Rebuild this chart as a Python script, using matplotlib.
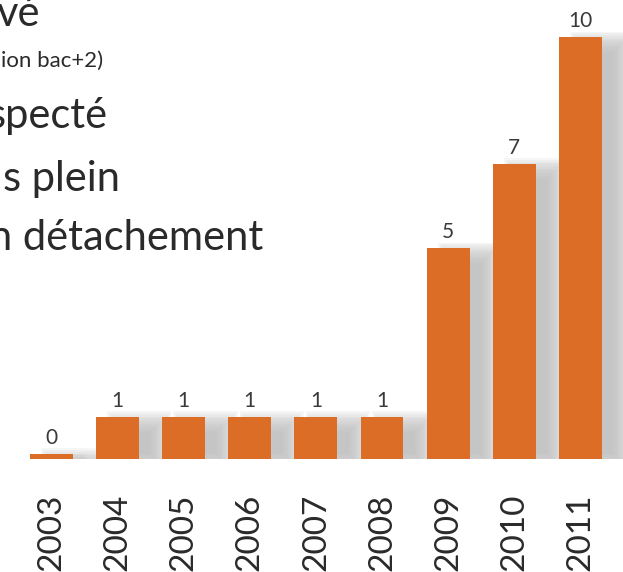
import numpy as np
import matplotlib.pyplot as plt

years = ['2003', '2004', '2005', '2006', '2007', '2008', '2009', '2010', '2011']
values = [0, 1, 1, 1, 1, 1, 5, 7, 10]
# cropped text from the left part of the original slide
side_text = ['vé', 'ion bac+2)', 'specté', 's plein', 'n détachement']

plt.rcParams['font.family'] = ['Lato', 'DejaVu Sans']

fig = plt.figure(figsize=(6.23, 5.72), dpi=100)
ax = fig.add_axes([0, 113 / 572, 1, 459 / 572])

x = np.arange(len(years))
heights = np.maximum(values, 0.12)   # keep a small stub visible for 0
orange = '#dc6d27'
w = 0.65

# soft drop shadow to the right of each bar
for t in np.linspace(-1, 1, 13):
    ex, ey = t * 0.16, t * 0.25
    ax.bar(x + 0.33, heights + 2 * ey, width=w + 2 * ex, bottom=-0.12 - ey,
           color='#bcbcbc', alpha=0.12, linewidth=0, zorder=1)

bars = ax.bar(x, heights, width=w, color=orange, linewidth=0, zorder=3)
ax.bar_label(bars, labels=[str(v) for v in values], padding=4,
             fontsize=15, color='#3a3a3a', zorder=4)

ax.set_xlim(-51.5 / 66.1, (623 - 51.5) / 66.1)
ax.set_ylim(0, 459 / 42.2)
ax.set_xticks(x, years, rotation=90, fontsize=24, color='#2a2a2a')
ax.tick_params(axis='x', length=0, pad=25)
ax.set_yticks([])
for s in ax.spines.values():
    s.set_visible(False)

# text lines (anchor px, baseline px, size, align)
pos = [(40, 26, 30, 'right'), (1, 67, 16, 'left'), (108, 128, 30, 'right'),
       (120, 191, 30, 'right'), (263, 250, 30, 'right')]
for s, (xa, yb, fs, ha) in zip(side_text, pos):
    fig.text(xa / 623, 1 - yb / 572, s, ha=ha, va='baseline',
             fontsize=fs, color='#2a2a2a')

fig.savefig('out.png', dpi=100)
